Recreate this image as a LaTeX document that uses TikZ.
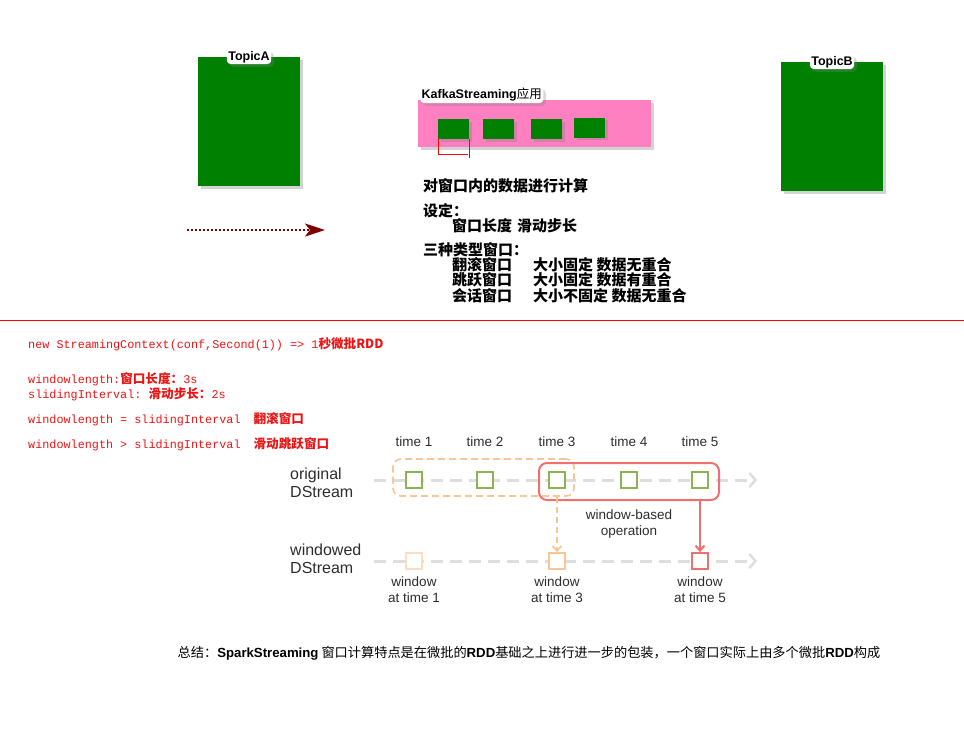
\documentclass[tikz,border=0pt]{standalone}
\usepackage{xcolor}
\usepackage{fontspec}
\setmainfont{Liberation Sans}
\setsansfont{Liberation Sans}
\setmonofont{Liberation Mono}
\newfontfamily\cjk{Noto Sans CJK SC}
\newcommand{\codezh}[1]{{\cjk\bfseries\fontsize{12.6}{13}\selectfont #1}}
\usepackage{tikz}
\usetikzlibrary{shapes, arrows.meta, positioning, shadows}

\definecolor{topicgreen}{RGB}{0,128,0}
\definecolor{kafkapink}{RGB}{255,128,192}
\definecolor{arrowred}{RGB}{128,0,0}
\definecolor{codered}{RGB}{235,20,20}
\definecolor{rddgreen}{RGB}{141,178,85}
\definecolor{winorange}{RGB}{249,196,150}
\definecolor{winlight}{RGB}{252,221,192}
\definecolor{winred}{RGB}{240,112,112}
\definecolor{streamgray}{RGB}{222,222,222}
\definecolor{labelgray}{RGB}{45,45,45}

\begin{document}
\begin{tikzpicture}
  [
    x=1pt, y=-1pt,
    Topic/.style={rectangle, fill=topicgreen, minimum width=102pt, minimum height=129pt, inner sep=0pt, drop shadow={opacity=0.35}},
    App/.style={rectangle, fill=kafkapink, minimum width=233pt, minimum height=47pt, inner sep=0pt, drop shadow={opacity=0.35}},
    Batch/.style={rectangle, fill=topicgreen, minimum width=31pt, minimum height=20pt, inner sep=0pt, drop shadow={opacity=0.35}},
    Tag/.style={rectangle, rounded corners=4pt, fill=white, inner sep=1.5pt, font=\bfseries\fontsize{12.5}{13}\selectfont, drop shadow={opacity=0.3}},
    Note/.style={anchor=west, inner sep=0pt, font=\cjk\bfseries\fontsize{15}{15}\selectfont},
    Code/.style={anchor=west, inner sep=0pt, text=codered, font=\ttfamily\fontsize{11.8}{13}\selectfont},
    Time/.style={inner sep=0pt, text=labelgray, font=\fontsize{13.5}{16}\selectfont},
    Stream/.style={anchor=west, inner sep=0pt, align=left, text=labelgray, font=\fontsize{16}{18.5}\selectfont},
    Caption/.style={inner sep=0pt, align=center, text=labelgray, font=\fontsize{13.5}{16}\selectfont},
    Rdd/.style={rectangle, draw=rddgreen, fill=white, line width=1.8pt, minimum size=16pt, inner sep=0pt},
    Win/.style={rectangle, fill=white, line width=1.8pt, minimum size=16pt, inner sep=0pt},
    Line/.style={streamgray, line width=3pt, dash pattern=on 12pt off 7pt, -{Straight Barb[length=6pt, width=14pt, line width=2.5pt]}}
  ]
  \useasboundingbox (0,0) rectangle (964,731);

  % Kafka part
  \node[Topic] (topicA) at(249, 121.5) {};
  \node[Topic] (topicB) at(832, 126.5) {};
  \node[Tag] (tagA) at(topicA.north) {TopicA};
  \node[Tag] (tagB) at(topicB.north) {TopicB};
  \node[App] (app) at(534.5, 123.5) {};
  \node[Tag, anchor=west] (tagApp) at(420, 95) {KafkaStreaming{\cjk\mdseries 应用}};
  \node[Batch] (b1) at(453.5, 129) {};
  \node[Batch] (b2) at(498.5, 129) {};
  \node[Batch] (b3) at(546.5, 129) {};
  \node[Batch] (b4) at(589.5, 127.5) {};
  \draw [red] (b1.south west) -- ++(0, 15) -- ++(30, 0);
  \draw [red] (b1.south east) -- ++(0, 19);

  % Notes
  \node[Note] (n1) at(423, 186) {对窗口内的数据进行计算};
  \node[Note] (n2) at(423, 211) {设定：};
  \node[Note] (n3) at(452, 226) {窗口长度};
  \node[Note] (n4) at(517, 226) {滑动步长};
  \node[Note] (n5) at(423, 250) {三种类型窗口：};
  \node[Note] (n6) at(452, 265) {翻滚窗口};
  \node[Note] (n7) at(533, 265) {大小固定 数据无重合};
  \node[Note] (n8) at(452, 280) {跳跃窗口};
  \node[Note] (n9) at(533, 280) {大小固定 数据有重合};
  \node[Note] (n10) at(452, 296) {会话窗口};
  \node[Note] (n11) at(533, 296) {大小不固定 数据无重合};

  \coordinate (flowStart) at(187, 230);
  \coordinate (flowEnd) at(325, 230);
  \path [draw, arrowred, line width=2.4pt, dash pattern=on 2.4pt off 1.6pt, -{Stealth[length=20pt, width=13pt, inset=5pt]}] (flowStart) -- (flowEnd);

  \draw [red, thick] (0, 320) -- (964, 320);

  % Code
  \node[Code] (c1) at(28, 344) {new StreamingContext(conf,Second(1)) => 1\codezh{秒微批RDD}};
  \node[Code] (c2) at(28, 379) {windowlength:\codezh{窗口长度：}3s};
  \node[Code] (c3) at(28, 394) {slidingInterval: \codezh{滑动步长：}2s};
  \node[Code] (c4) at(28, 419) {windowlength = slidingInterval\hspace{13pt}\codezh{翻滚窗口}};
  \node[Code] (c5) at(28, 444) {windowlength > slidingInterval\hspace{13pt}\codezh{滑动跳跃窗口}};

  % Window figure
  \node[Time] (t1) at(414, 442) {time 1};
  \node[Time] (t2) at(485, 442) {time 2};
  \node[Time] (t3) at(557, 442) {time 3};
  \node[Time] (t4) at(629, 442) {time 4};
  \node[Time] (t5) at(700, 442) {time 5};
  \node[Stream] (orig) at(290, 483) {original\\DStream};
  \node[Stream] (wind) at(290, 559) {windowed\\DStream};

  \coordinate (o0) at(374, 480);
  \coordinate (oEnd) at(757, 480);
  \coordinate (w0) at(374, 561);
  \coordinate (wEnd) at(757, 561);
  \path [draw, Line] (o0) -- (oEnd);
  \path [draw, Line] (w0) -- (wEnd);

  \node[draw=winorange, line width=1.6pt, dash pattern=on 7pt off 4pt, rounded corners=8pt, minimum width=181pt, minimum height=37pt] (winOld) at(483.5, 477.5) {};
  \node[draw=winred, line width=2pt, rounded corners=8pt, minimum width=180pt, minimum height=37pt] (winNew) at(629, 481.5) {};

  \node[Rdd] (o1) at(414, 480) {};
  \node[Rdd] (o2) at(485, 480) {};
  \node[Rdd] (o3) at(557, 480) {};
  \node[Rdd] (o4) at(629, 480) {};
  \node[Rdd] (o5) at(700, 480) {};
  \node[Win, draw=winlight] (w1) at(414, 561) {};
  \node[Win, draw=winorange] (w3) at(557, 561) {};
  \node[Win, draw=winred] (w5) at(700, 561) {};

  \path [draw, winorange, line width=1.6pt, dash pattern=on 6pt off 4pt, -{Straight Barb[length=5pt, width=9pt]}] (winOld.south -| o3) -- (w3.north);
  \path [draw, winred, line width=2pt, -{Straight Barb[length=5pt, width=9pt]}] (winNew.south -| o5) -- (w5.north);

  \node[Caption] (op) at(629, 524) {window-based\\operation};
  \node[Caption] (cap1) at(414, 590) {window\\at time 1};
  \node[Caption] (cap3) at(557, 590) {window\\at time 3};
  \node[Caption] (cap5) at(700, 590) {window\\at time 5};

  % Summary
  \node[inner sep=0pt, font=\cjk\fontsize{13.2}{14}\selectfont] (sum) at(529, 653) {总结：{\sffamily\bfseries SparkStreaming} 窗口计算特点是在微批的{\sffamily\bfseries RDD}基础之上进行进一步的包装，一个窗口实际上由多个微批{\sffamily\bfseries RDD}构成};

\end{tikzpicture}
\end{document}
